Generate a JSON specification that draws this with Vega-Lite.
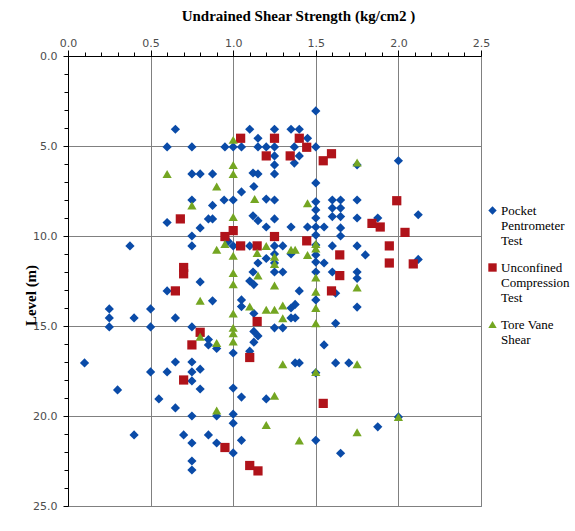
{
"$schema": "https://vega.github.io/schema/vega-lite/v6.json",
"width": 413, "height": 450,
"padding": {"left": 23, "top": 8, "right": 0, "bottom": 0},
"background": "white",
"config": {"view": {"stroke": "#4A7EBB", "strokeWidth": 1}, "font": "Liberation Serif"},
"datasets": {"pts": [
{"s":"P","x":1.50,"y":3.05},{"s":"P","x":0.65,"y":4.07},{"s":"P","x":1.10,"y":4.07},{"s":"P","x":1.25,"y":4.07},{"s":"P","x":1.35,"y":4.07},{"s":"P","x":1.40,"y":4.07},
{"s":"P","x":1.15,"y":4.57},{"s":"P","x":1.45,"y":4.57},{"s":"P","x":0.60,"y":5.05},{"s":"P","x":0.75,"y":5.05},{"s":"P","x":0.95,"y":5.05},{"s":"P","x":1.00,"y":5.05},
{"s":"P","x":1.05,"y":5.05},{"s":"P","x":1.15,"y":5.05},{"s":"P","x":1.20,"y":5.05},{"s":"P","x":1.25,"y":5.05},{"s":"P","x":1.37,"y":5.05},{"s":"P","x":1.50,"y":5.05},
{"s":"P","x":1.25,"y":5.55},{"s":"P","x":1.40,"y":5.55},{"s":"P","x":1.37,"y":5.95},{"s":"P","x":1.25,"y":6.05},{"s":"P","x":1.75,"y":6.05},{"s":"P","x":2.00,"y":5.82},
{"s":"P","x":0.75,"y":6.55},{"s":"P","x":0.80,"y":6.55},{"s":"P","x":0.875,"y":6.55},{"s":"P","x":1.12,"y":6.5},{"s":"P","x":1.15,"y":6.55},{"s":"P","x":1.25,"y":6.55},
{"s":"P","x":1.50,"y":7.05},{"s":"P","x":1.125,"y":7.25},{"s":"P","x":1.05,"y":7.55},{"s":"P","x":0.75,"y":8.0},{"s":"P","x":0.945,"y":8.0},{"s":"P","x":1.00,"y":8.0},
{"s":"P","x":1.20,"y":7.95},{"s":"P","x":1.25,"y":8.0},{"s":"P","x":1.60,"y":8.0},{"s":"P","x":1.65,"y":8.0},{"s":"P","x":1.75,"y":8.0},{"s":"P","x":0.875,"y":8.3},
{"s":"P","x":1.50,"y":8.1},{"s":"P","x":1.50,"y":8.55},{"s":"P","x":1.60,"y":8.45},{"s":"P","x":1.65,"y":8.45},{"s":"P","x":1.50,"y":9.0},{"s":"P","x":1.60,"y":8.92},
{"s":"P","x":1.65,"y":8.92},{"s":"P","x":1.75,"y":9.0},{"s":"P","x":1.875,"y":9.0},{"s":"P","x":2.12,"y":8.82},{"s":"P","x":0.60,"y":9.25},{"s":"P","x":0.85,"y":9.05},
{"s":"P","x":0.875,"y":9.05},{"s":"P","x":0.80,"y":9.55},{"s":"P","x":1.12,"y":8.88},{"s":"P","x":1.15,"y":9.15},{"s":"P","x":1.25,"y":9.05},{"s":"P","x":1.20,"y":9.5},
{"s":"P","x":1.35,"y":9.5},{"s":"P","x":1.45,"y":9.5},{"s":"P","x":1.50,"y":9.5},{"s":"P","x":1.55,"y":9.5},{"s":"P","x":1.65,"y":9.55},{"s":"P","x":0.75,"y":10.0},
{"s":"P","x":1.50,"y":9.95},{"s":"P","x":1.65,"y":10.0},{"s":"P","x":0.97,"y":10.3},{"s":"P","x":0.375,"y":10.55},{"s":"P","x":0.75,"y":10.55},{"s":"P","x":1.00,"y":10.55},
{"s":"P","x":1.10,"y":10.55},{"s":"P","x":1.25,"y":10.55},{"s":"P","x":1.30,"y":10.55},{"s":"P","x":1.50,"y":10.5},{"s":"P","x":1.60,"y":10.55},{"s":"P","x":1.75,"y":10.55},
{"s":"P","x":1.25,"y":11.0},{"s":"P","x":1.35,"y":11.0},{"s":"P","x":1.50,"y":11.05},{"s":"P","x":1.80,"y":11.05},{"s":"P","x":1.20,"y":11.25},{"s":"P","x":1.15,"y":11.5},
{"s":"P","x":1.25,"y":11.5},{"s":"P","x":1.50,"y":11.45},{"s":"P","x":1.55,"y":11.5},{"s":"P","x":2.12,"y":11.3},{"s":"P","x":1.12,"y":12.0},{"s":"P","x":1.25,"y":12.0},
{"s":"P","x":1.30,"y":12.0},{"s":"P","x":1.50,"y":12.0},{"s":"P","x":1.60,"y":12.0},{"s":"P","x":1.75,"y":12.0},{"s":"P","x":1.75,"y":12.35},{"s":"P","x":0.80,"y":12.55},
{"s":"P","x":1.10,"y":12.5},{"s":"P","x":1.125,"y":12.7},{"s":"P","x":0.60,"y":13.05},{"s":"P","x":1.40,"y":13.05},{"s":"P","x":1.62,"y":13.18},{"s":"P","x":1.50,"y":13.55},
{"s":"P","x":0.875,"y":13.6},{"s":"P","x":1.05,"y":13.55},{"s":"P","x":1.05,"y":13.92},{"s":"P","x":1.75,"y":13.95},{"s":"P","x":1.35,"y":14.0},{"s":"P","x":1.375,"y":13.8},
{"s":"P","x":0.25,"y":14.05},{"s":"P","x":0.50,"y":14.05},{"s":"P","x":1.125,"y":14.3},{"s":"P","x":0.25,"y":14.55},{"s":"P","x":0.40,"y":14.55},{"s":"P","x":0.65,"y":14.55},
{"s":"P","x":1.35,"y":14.55},{"s":"P","x":1.375,"y":14.55},{"s":"P","x":1.62,"y":14.85},{"s":"P","x":0.25,"y":15.05},{"s":"P","x":0.50,"y":15.05},{"s":"P","x":0.75,"y":15.05},
{"s":"P","x":1.25,"y":15.1},{"s":"P","x":1.30,"y":15.1},{"s":"P","x":1.125,"y":15.3},{"s":"P","x":1.15,"y":15.55},{"s":"P","x":0.85,"y":15.75},{"s":"P","x":1.125,"y":15.9},
{"s":"P","x":0.85,"y":16.05},{"s":"P","x":0.90,"y":16.25},{"s":"P","x":1.55,"y":16.05},{"s":"P","x":1.10,"y":16.4},{"s":"P","x":1.00,"y":16.5},{"s":"P","x":0.10,"y":17.05},
{"s":"P","x":0.65,"y":17.0},{"s":"P","x":0.75,"y":17.0},{"s":"P","x":0.80,"y":17.4},{"s":"P","x":0.75,"y":17.55},{"s":"P","x":0.60,"y":17.55},{"s":"P","x":0.50,"y":17.55},
{"s":"P","x":1.375,"y":17.05},{"s":"P","x":1.40,"y":17.05},{"s":"P","x":1.62,"y":17.05},{"s":"P","x":1.70,"y":17.05},{"s":"P","x":1.50,"y":17.6},{"s":"P","x":0.75,"y":18.05},
{"s":"P","x":1.00,"y":18.45},{"s":"P","x":0.80,"y":18.5},{"s":"P","x":0.30,"y":18.55},{"s":"P","x":1.05,"y":18.95},{"s":"P","x":0.55,"y":19.05},{"s":"P","x":1.20,"y":19.05},
{"s":"P","x":0.65,"y":19.55},{"s":"P","x":1.00,"y":19.9},{"s":"P","x":0.75,"y":20.0},{"s":"P","x":0.90,"y":20.0},{"s":"P","x":1.00,"y":20.4},{"s":"P","x":1.875,"y":20.6},
{"s":"P","x":2.00,"y":20.05},{"s":"P","x":0.40,"y":21.05},{"s":"P","x":0.70,"y":21.05},{"s":"P","x":0.85,"y":21.05},{"s":"P","x":1.05,"y":21.35},{"s":"P","x":1.50,"y":21.35},
{"s":"P","x":0.75,"y":21.5},{"s":"P","x":0.90,"y":21.5},{"s":"P","x":1.00,"y":22.05},{"s":"P","x":1.65,"y":22.07},{"s":"P","x":0.75,"y":22.5},{"s":"P","x":0.75,"y":23.0},
{"s":"U","x":1.045,"y":4.57},{"s":"U","x":1.25,"y":4.57},{"s":"U","x":1.40,"y":4.57},{"s":"U","x":1.445,"y":5.07},{"s":"U","x":1.20,"y":5.55},{"s":"U","x":1.345,"y":5.55},
{"s":"U","x":1.545,"y":5.82},{"s":"U","x":1.595,"y":5.43},{"s":"U","x":0.68,"y":9.05},{"s":"U","x":1.99,"y":8.04},{"s":"U","x":1.84,"y":9.3},{"s":"U","x":1.89,"y":9.5},
{"s":"U","x":2.04,"y":9.8},{"s":"U","x":0.95,"y":10.03},{"s":"U","x":1.0,"y":9.7},{"s":"U","x":1.25,"y":10.03},{"s":"U","x":1.445,"y":10.27},{"s":"U","x":1.045,"y":10.55},
{"s":"U","x":1.145,"y":10.55},{"s":"U","x":1.945,"y":10.55},{"s":"U","x":1.645,"y":11.05},{"s":"U","x":1.945,"y":11.5},{"s":"U","x":2.09,"y":11.55},{"s":"U","x":0.70,"y":11.75},
{"s":"U","x":0.70,"y":12.1},{"s":"U","x":1.645,"y":12.2},{"s":"U","x":0.65,"y":13.05},{"s":"U","x":1.595,"y":13.05},{"s":"U","x":1.145,"y":14.75},{"s":"U","x":0.80,"y":15.35},
{"s":"U","x":0.75,"y":16.05},{"s":"U","x":1.10,"y":16.75},{"s":"U","x":0.70,"y":18.0},{"s":"U","x":1.545,"y":19.3},{"s":"U","x":0.95,"y":21.75},{"s":"U","x":1.10,"y":22.75},
{"s":"U","x":1.15,"y":23.05},
{"s":"T","x":1.0,"y":4.66},{"s":"T","x":1.75,"y":5.92},{"s":"T","x":0.60,"y":6.55},{"s":"T","x":1.0,"y":6.05},{"s":"T","x":1.0,"y":6.55},{"s":"T","x":0.90,"y":7.25},
{"s":"T","x":0.75,"y":8.3},{"s":"T","x":1.13,"y":7.95},{"s":"T","x":1.45,"y":8.18},{"s":"T","x":1.0,"y":8.95},{"s":"T","x":0.95,"y":10.45},{"s":"T","x":0.90,"y":10.77},
{"s":"T","x":1.145,"y":10.95},{"s":"T","x":1.20,"y":10.55},{"s":"T","x":1.0,"y":11.1},{"s":"T","x":1.35,"y":10.77},{"s":"T","x":1.375,"y":10.77},{"s":"T","x":1.50,"y":10.45},
{"s":"T","x":1.50,"y":10.7},{"s":"T","x":1.45,"y":11.05},{"s":"T","x":1.25,"y":11.15},{"s":"T","x":1.25,"y":11.55},{"s":"T","x":1.0,"y":12.05},{"s":"T","x":1.15,"y":12.2},
{"s":"T","x":1.0,"y":12.68},{"s":"T","x":1.25,"y":12.75},{"s":"T","x":1.50,"y":12.3},{"s":"T","x":1.50,"y":13.1},{"s":"T","x":1.75,"y":12.86},{"s":"T","x":0.80,"y":13.6},
{"s":"T","x":1.10,"y":13.92},{"s":"T","x":1.20,"y":14.1},{"s":"T","x":1.25,"y":14.1},{"s":"T","x":1.30,"y":13.86},{"s":"T","x":1.0,"y":14.3},{"s":"T","x":1.50,"y":14.0},
{"s":"T","x":1.30,"y":14.57},{"s":"T","x":1.50,"y":14.85},{"s":"T","x":1.0,"y":15.1},{"s":"T","x":1.0,"y":15.4},{"s":"T","x":1.0,"y":15.86},{"s":"T","x":0.80,"y":15.6},
{"s":"T","x":0.90,"y":15.95},{"s":"T","x":1.30,"y":17.12},{"s":"T","x":1.50,"y":17.55},{"s":"T","x":1.75,"y":17.12},{"s":"T","x":1.25,"y":18.88},{"s":"T","x":0.90,"y":19.7},
{"s":"T","x":1.20,"y":20.5},{"s":"T","x":1.75,"y":20.9},{"s":"T","x":2.0,"y":20.05},{"s":"T","x":1.40,"y":21.36}
]},
"data": {"name": "pts"},
"layer": [
{
"mark": {"type": "point", "filled": true, "opacity": 1, "size": 85, "strokeWidth": 0},
"encoding": {
"x": {"field": "x", "type": "quantitative",
 "scale": {"domain": [0, 2.5], "nice": false, "zero": false},
 "axis": {"orient": "top", "values": [0, 0.5, 1, 1.5, 2, 2.5], "format": ".1f", "labelFlush": false,
  "grid": true, "gridColor": "#808080", "gridWidth": 1, "domainColor": "#000000", "tickColor": "#000000", "tickSize": 6,
  "labelPadding": 2, "labelFont": "DejaVu Sans", "labelFontSize": 11, "labelColor": "#4d4d4d",
  "title": "Undrained Shear Strength (kg/cm2 )", "titleFont": "Liberation Serif", "titleFontSize": 15, "titleFontWeight": "bold",
  "titleColor": "#000000", "titlePadding": 14, "titleX": 230, "titleAlign": "center"}},
"y": {"field": "y", "type": "quantitative",
 "scale": {"domain": [0, 25], "nice": false, "zero": false, "reverse": true},
 "axis": {"orient": "left", "values": [0, 5, 10, 15, 20, 25], "format": ".1f", "labelFlush": false,
  "grid": true, "gridColor": "#808080", "gridWidth": 1, "domainColor": "#000000", "tickColor": "#000000", "tickSize": 5,
  "labelPadding": 6, "labelFont": "DejaVu Sans", "labelFontSize": 11, "labelColor": "#4d4d4d",
  "title": "Level (m)", "titleFont": "Liberation Serif", "titleFontSize": 15, "titleFontWeight": "bold",
  "titleColor": "#000000", "titleX": -38, "titleY": 239, "titleAlign": "center", "titleBaseline": "middle", "titleAngle": -90}},
"color": {"field": "s", "type": "nominal",
 "scale": {"domain": ["P", "U", "T"], "range": ["#0A4BA8", "#B0131A", "#74A622"]},
 "legend": {"orient": "none", "legendX": 418, "legendY": 148, "title": null,
  "labelFont": "Liberation Serif", "labelFontSize": 13, "labelColor": "#000000", "labelLimit": 200,
  "labelExpr": "datum.label == 'P' ? ['Pocket','Pentrometer','Test'] : datum.label == 'U' ? ['Unconfined','Compression','Test'] : ['Tore Vane','Shear']",
  "symbolSize": 70, "symbolStrokeWidth": 0, "rowPadding": 13, "labelOffset": 2, "labelBaseline": "middle"}},
"shape": {"field": "s", "type": "nominal",
 "scale": {"domain": ["P", "U", "T"], "range": ["diamond", "square", "triangle-up"]}}
}
},
{
"mark": {"type": "point", "opacity": 0},
"encoding": {
"x": {"field": "x", "type": "quantitative",
 "axis": {"orient": "top", "values": [0.1,0.2,0.3,0.4,0.6,0.7,0.8,0.9,1.1,1.2,1.3,1.4,1.6,1.7,1.8,1.9,2.1,2.2,2.3,2.4],
  "labels": false, "grid": false, "domain": false, "tickColor": "#000000", "tickSize": 4, "title": null}},
"y": {"field": "y", "type": "quantitative",
 "axis": {"orient": "left", "values": [1,2,3,4,6,7,8,9,11,12,13,14,16,17,18,19,21,22,23,24],
  "labels": false, "grid": false, "domain": false, "tickColor": "#000000", "tickSize": 4, "title": null}}
}
}
],
"resolve": {"axis": {"x": "independent", "y": "independent"}}
}
